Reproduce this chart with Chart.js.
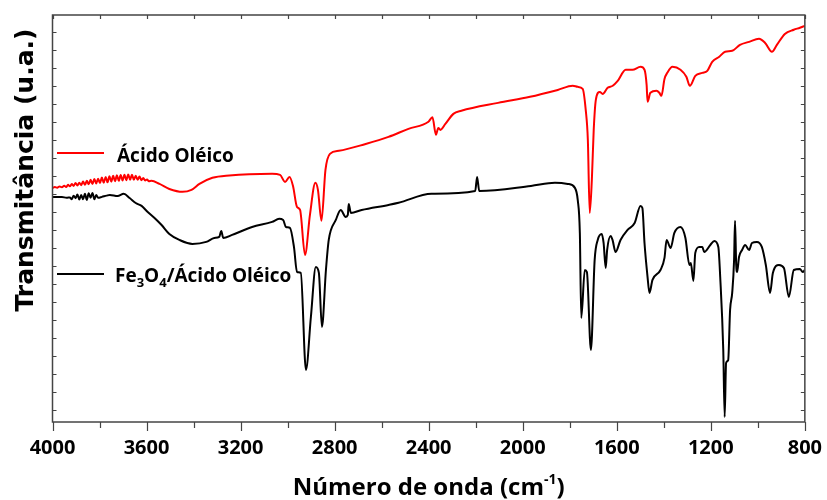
<!DOCTYPE html>
<html>
<head>
<meta charset="utf-8">
<script src="https://cdn.jsdelivr.net/npm/chart.js@4/dist/chart.umd.min.js"></script>
<style>
    html, body { margin: 0; padding: 0; background: #fff; }
    canvas { display: block; }
</style>
</head>
<body>
<canvas id="ftir" width="827" height="500"></canvas>
<script>
// wavenumber (cm-1) and transmittance (u.a.)
const redWn = [4000, 3990, 3980, 3970, 3960, 3950, 3942, 3934, 3926, 3918, 3910, 3902, 3894, 3886, 3878, 3870, 3862, 3854, 3846, 3838,
    3830, 3822, 3814, 3806, 3798, 3790, 3782, 3774, 3766, 3758, 3750, 3742, 3734, 3726, 3718, 3710, 3702, 3694, 3686, 3678,
    3670, 3662, 3654, 3646, 3638, 3630, 3622, 3614, 3606, 3598, 3590, 3579, 3545,
    3503, 3447, 3409, 3375, 3320, 3248, 3066, 3032, 3011, 2992, 2977, 2960, 2947, 2926, 2905, 2882, 2871, 2856, 2839, 2820,
    2782, 2668, 2571, 2486, 2401, 2384, 2369, 2359, 2350, 2329, 2295, 2261, 2105, 1969, 1851, 1787, 1766, 1745, 1732, 1723,
    1715, 1706, 1698, 1689, 1672, 1660, 1639, 1617, 1596, 1562, 1533, 1499, 1482, 1473, 1469, 1457, 1431, 1419, 1410, 1397,
    1385, 1363, 1329, 1304, 1289, 1266, 1236, 1215, 1194, 1164, 1139, 1109, 1076, 1037, 995, 969, 940, 919, 885, 847, 821, 800];
const redT = [12.35, 12.40, 12.36, 12.43, 12.39, 12.47, 12.40, 12.52, 12.44, 12.56, 12.46, 12.62, 12.48, 12.64, 12.50, 12.70, 12.52, 12.74, 12.55, 12.80,
    12.57, 12.84, 12.60, 12.86, 12.62, 12.92, 12.64, 12.95, 12.66, 13.00, 12.70, 13.02, 12.72, 13.05, 12.74, 13.06, 12.76, 13.08, 12.78, 13.10,
    12.80, 13.08, 12.80, 13.02, 12.80, 12.98, 12.78, 12.90, 12.76, 12.82, 12.72, 12.74, 12.57,
    12.29, 12.13, 12.24, 12.57, 12.91, 13.04, 13.13, 13.07, 12.68, 12.96, 12.46, 11.29, 11.13, 8.63, 10.85, 12.63, 12.24, 10.52, 13.35, 14.24,
    14.41, 14.79, 15.18, 15.63, 16.02, 16.27, 15.30, 15.68, 15.57, 15.90, 16.46, 16.63, 17.07, 17.41, 17.79, 18.02, 17.96, 17.85, 16.68, 15.02,
    10.96, 12.79, 15.57, 17.24, 17.68, 17.57, 17.91, 18.02, 18.29, 18.91, 18.91, 19.07, 18.91, 18.07, 17.13, 17.63, 17.74, 17.63, 17.46, 18.40,
    18.74, 19.07, 18.91, 18.52, 18.02, 18.57, 18.74, 18.85, 19.35, 19.63, 19.91, 19.96, 20.29, 20.46, 20.63, 20.40, 19.91, 20.29, 20.90, 21.13, 21.24, 21.35];

const blackWn = [4000, 3960, 3940, 3926, 3918, 3910, 3902, 3894, 3886, 3878, 3870, 3862, 3854, 3846, 3838, 3830, 3822, 3814, 3806, 3790,
    3770, 3756, 3723, 3697, 3672, 3646, 3621, 3595, 3566, 3536,
    3503, 3460, 3405, 3346, 3312, 3291, 3282, 3274, 3236, 3151, 3066, 3036, 3019, 3007, 2990, 2973, 2960, 2944, 2922, 2901,
    2880, 2867, 2854, 2837, 2825, 2795, 2774, 2753, 2744, 2740, 2731, 2685, 2571, 2528, 2388, 2202, 2194, 2185, 1965, 1863,
    1808, 1778, 1766, 1757, 1751, 1736, 1727, 1710, 1694, 1681, 1664, 1656, 1647, 1641, 1626, 1618, 1605, 1584, 1554, 1524,
    1499, 1491, 1482, 1469, 1461, 1448, 1414, 1397, 1388, 1371, 1355, 1329, 1308, 1291, 1285, 1274, 1266, 1249, 1236, 1228,
    1202, 1185, 1168, 1160, 1147, 1141, 1135, 1126, 1118, 1109, 1101, 1097, 1092, 1088, 1080, 1067, 1054, 1037, 1025, 1004,
    983, 966, 948, 936, 910, 889, 868, 847, 821, 809, 800];
const blackT = [11.85, 11.85, 11.80, 11.82, 11.72, 11.92, 11.78, 11.98, 11.70, 11.95, 11.72, 12.02, 11.68, 12.05, 11.80, 12.07, 11.72, 11.95, 11.80, 11.85,
    11.92, 11.96, 11.90, 12.02, 11.79, 11.51, 11.35, 11.01, 10.68, 10.29,
    9.79, 9.46, 9.24, 9.35, 9.57, 9.63, 9.96, 9.57, 9.74, 10.18, 10.46, 10.63, 10.57, 10.18, 10.13, 9.07, 7.68, 7.63, 2.24, 5.18,
    7.96, 7.63, 4.63, 7.79, 9.46, 10.57, 11.12, 10.74, 10.85, 11.46, 10.96, 11.12, 11.40, 11.52, 12.02, 12.18, 12.96, 12.18, 12.46, 12.63,
    12.57, 12.35, 11.68, 9.85, 5.13, 7.79, 7.68, 3.35, 8.35, 9.46, 9.79, 9.29, 7.90, 8.90, 9.68, 9.46, 8.79, 9.46, 10.02, 10.40,
    11.35, 11.23, 9.29, 7.40, 6.52, 7.24, 7.79, 8.46, 9.46, 9.01, 9.85, 10.18, 9.57, 8.07, 8.18, 7.18, 8.74, 9.07, 9.07, 8.79,
    9.18, 9.40, 9.07, 7.40, 3.35, -0.37, 2.63, 2.79, 5.57, 6.52, 8.35, 10.52, 8.07, 7.68, 8.51, 8.90, 9.18, 8.90, 9.29, 9.35,
    9.07, 8.07, 6.52, 7.62, 8.07, 7.90, 6.29, 7.79, 7.85, 7.68, 7.79];

const xTickLabels = [4000, 3600, 3200, 2800, 2400, 2000, 1600, 1200, 800];

const toPoints = (wn, t) => wn.map((x, i) => ({ x: x, y: t[i] }));

const frameAndText = {
    id: 'frameAndText',
    afterDraw(chart) {
        const ctx = chart.ctx;
        const area = chart.chartArea;
        const xs = chart.scales.x;
        const ys = chart.scales.y;
        ctx.save();

        // box + ticks
        ctx.strokeStyle = '#444';
        ctx.lineWidth = 1.5;
        ctx.strokeRect(area.left, area.top, area.right - area.left, area.bottom - area.top);
        ctx.lineWidth = 1.2;
        ctx.beginPath();
        for (let v = 800; v <= 4000; v += 200) {
            const px = Math.round(xs.getPixelForValue(v)) + 0.5;
            const len = v % 400 === 0 ? 9 : 6;
            ctx.moveTo(px, area.bottom);
            ctx.lineTo(px, area.bottom + len);
            ctx.moveTo(px, area.top);
            ctx.lineTo(px, area.top + 4);
        }
        for (let v = 0; v <= 21; v++) {
            const py = Math.round(ys.getPixelForValue(v)) + 0.5;
            ctx.moveTo(area.left, py);
            ctx.lineTo(area.left + 4, py);
            ctx.moveTo(area.right, py);
            ctx.lineTo(area.right - 4, py);
        }
        ctx.stroke();

        // legend
        ctx.lineWidth = 2;
        ctx.strokeStyle = '#ff0000';
        ctx.beginPath();
        ctx.moveTo(57, 153);
        ctx.lineTo(104, 153);
        ctx.stroke();
        ctx.strokeStyle = '#000';
        ctx.beginPath();
        ctx.moveTo(57, 274);
        ctx.lineTo(104, 274);
        ctx.stroke();

        ctx.fillStyle = '#000';
        ctx.textBaseline = 'alphabetic';
        ctx.textAlign = 'left';
        const big = 'bold 19px "Open Sans"';
        const small = 'bold 13px "Open Sans"';
        ctx.font = big;
        ctx.fillText('Ácido Oléico', 117, 162);

        let x = 115;
        const base = 282;
        const parts = [['Fe', 0], ['3', 1], ['O', 0], ['4', 1], ['/Ácido Oléico', 0]];
        parts.forEach(p => {
            ctx.font = p[1] ? small : big;
            ctx.fillText(p[0], x, base + (p[1] ? 5 : 0));
            x += ctx.measureText(p[0]).width;
        });

        // x title with superscript
        const tMain = 'Número de onda (cm';
        const tSup = '-1';
        const tEnd = ')';
        const fMain = 'bold 24px "Open Sans"';
        const fSup = 'bold 14px "Open Sans"';
        ctx.font = fMain;
        const w1 = ctx.measureText(tMain).width;
        const w3 = ctx.measureText(tEnd).width;
        ctx.font = fSup;
        const w2 = ctx.measureText(tSup).width;
        let tx = (area.left + area.right) / 2 - (w1 + w2 + w3) / 2;
        const ty = 495;
        ctx.font = fMain;
        ctx.fillText(tMain, tx, ty);
        tx += w1;
        ctx.font = fSup;
        ctx.fillText(tSup, tx, ty - 11);
        tx += w2;
        ctx.font = fMain;
        ctx.fillText(tEnd, tx, ty);

        // y title
        ctx.translate(33, 170);
        ctx.rotate(-Math.PI / 2);
        ctx.textAlign = 'center';
        ctx.font = 'bold 25px "DejaVu Sans"';
        ctx.fillText('Transmitância (u.a.)', 0, 0);

        ctx.restore();
    }
};

new Chart(document.getElementById('ftir'), {
    type: 'scatter',
    data: {
        datasets: [
            {
                label: 'Ácido Oléico',
                data: toPoints(redWn, redT),
                showLine: true,
                borderColor: '#ff0000',
                borderWidth: 2,
                pointRadius: 0,
                cubicInterpolationMode: 'monotone'
            },
            {
                label: 'Fe3O4/Ácido Oléico',
                data: toPoints(blackWn, blackT),
                showLine: true,
                borderColor: '#000000',
                borderWidth: 2,
                pointRadius: 0,
                cubicInterpolationMode: 'monotone'
            }
        ]
    },
    options: {
        responsive: false,
        animation: false,
        devicePixelRatio: 1,
        layout: { padding: { top: 15, right: 19, left: 0, bottom: 0 } },
        plugins: {
            legend: { display: false },
            tooltip: { enabled: false }
        },
        scales: {
            x: {
                type: 'linear',
                reverse: true,
                min: 800,
                max: 4000,
                grid: { display: false, drawTicks: true, tickLength: 9 },
                border: { display: false },
                ticks: {
                    stepSize: 200,
                    autoSkip: false,
                    maxRotation: 0,
                    padding: 5,
                    color: '#000',
                    font: { family: 'Open Sans', weight: 'bold', size: 20 },
                    callback: v => xTickLabels.includes(v) ? String(v) : ''
                },
                afterFit: s => { s.height = 78; }
            },
            y: {
                min: -0.65,
                max: 21.95,
                grid: { display: false },
                border: { display: false },
                ticks: { display: false, stepSize: 1 },
                afterFit: s => { s.width = 52.5; }
            }
        }
    },
    plugins: [frameAndText]
});
</script>
</body>
</html>
